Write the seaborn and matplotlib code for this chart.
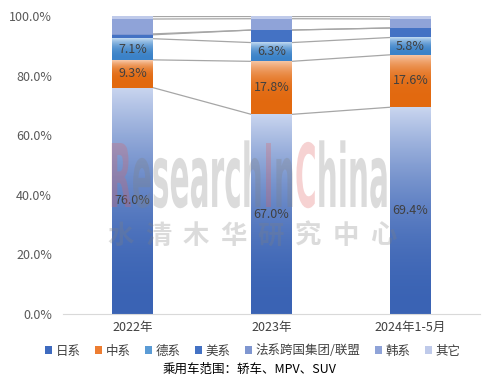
import numpy as np
import matplotlib
matplotlib.use('Agg')
import matplotlib.pyplot as plt
import seaborn as sns
from matplotlib.patches import Patch, PathPatch
from matplotlib.textpath import TextPath, TextToPath
from matplotlib.font_manager import FontProperties
from matplotlib.transforms import Affine2D
from matplotlib.colors import to_rgb

# data (share of passenger car sales, %)
years = ['2022年', '2023年', '2024年1-5月']
series = ['日系', '中系', '德系', '美系', '法系跨国集团/联盟', '韩系', '其它']
japan = [76.0, 67.0, 69.4]
china = [9.3, 17.8, 17.6]
germany = [7.1, 6.3, 5.8]
usa = [1.3, 4.2, 3.2]
france = [0.3, 0.0, 0.0]
korea = [5.0, 3.8, 3.0]
others = [1.0, 0.9, 1.0]
yticks = [0, 20, 40, 60, 80, 100]

values = [japan, china, germany, usa, france, korea, others]
# (legend colour, gradient top, gradient bottom, power) - None = solid
styles = [
    ('#3f6bbf', '#c9d5ef', '#3a63b4', 2.0),
    ('#ed7d31', '#f8cbad', '#e2690f', 3.5),
    ('#5b9bd5', '#c4dcf2', '#3b82c8', 2.5),
    ('#4472c4', None, None, None),
    ('#7f96d0', None, None, None),
    ('#8fa3d8', None, None, None),
    ('#bfcaea', None, None, None),
]
labelled = [0, 1, 2]

sns.set_style('white')
plt.rcParams['font.family'] = ['Noto Sans CJK SC', 'DejaVu Sans']

fig = plt.figure(figsize=(5, 3.82), dpi=100)
ax = fig.add_axes([0.126, 0.178, 0.834, 0.780])


def vgrad(rect, top, bottom, power):
    x0, y0 = rect.get_x(), rect.get_y()
    w, h = rect.get_width(), rect.get_height()
    if h <= 0:
        return
    t = np.linspace(0, 1, 120)[:, None]
    f = t ** power
    c = (1 - f) * np.array(to_rgb(bottom)) + f * np.array(to_rgb(top))
    ax.imshow(c[:, None, :], extent=[x0, x0 + w, y0, y0 + h], origin='lower',
              aspect='auto', zorder=2.5, interpolation='bilinear')


bottoms = np.zeros(3)
tops = []
for i, (name, vals) in enumerate(zip(series, values)):
    col, gtop, gbot, pw = styles[i]
    sns.barplot(x=years, y=vals, bottom=bottoms, color=col, saturation=1,
                width=0.29, errorbar=None, ax=ax, zorder=2, linewidth=0)
    cont = ax.containers[-1]
    if gtop is not None:
        for r in cont:
            vgrad(r, gtop, gbot, pw)
    if i in labelled:
        for j, v in enumerate(vals):
            ax.text(j, bottoms[j] + v / 2, f'{v:.1f}%', ha='center', va='center',
                    fontsize=9, color='#404040', zorder=4)
    bottoms = bottoms + np.array(vals)
    tops.append(bottoms.copy())

# series lines between bars
hw = 0.145
for t in tops:
    for j in range(len(years) - 1):
        ax.plot([j + hw, j + 1 - hw], [t[j], t[j + 1]], color='#a6a6a6', lw=0.9, zorder=1.5)

ax.set_xlim(-0.5, 2.5)
ax.set_ylim(0, 100)
ax.set_yticks(yticks)
ax.set_yticklabels([f'{v:.1f}%' for v in yticks])
ax.tick_params(axis='y', length=0, pad=8, labelsize=9, labelcolor='#595959')
ax.tick_params(axis='x', length=0, pad=5, labelsize=9, labelcolor='#404040')
ax.set_xlabel('')
ax.set_ylabel('')
for s in ['top', 'right', 'left']:
    ax.spines[s].set_visible(False)
ax.spines['bottom'].set_color('#d9d9d9')

# watermark
prop = FontProperties(family='DejaVu Sans', weight='bold', size=100)
t2p = TextToPath()
parts = [('R', '#e06060'), ('esearch', '#808080'), ('I', '#e06060'),
         ('n', '#808080'), ('C', '#e06060'), ('hina', '#808080')]
full = ''.join(p for p, _ in parts)
W = t2p.get_text_width_height_descent(full, prop, ismath=False)[0]
sx, sy = 280 / W, 64 / 72.9
prefix = ''
for txt, c in parts:
    off = t2p.get_text_width_height_descent(prefix, prop, ismath=False)[0] if prefix else 0
    path = TextPath((0, 0), txt, size=100, prop=prop)
    tr = Affine2D().translate(off, 0).scale(sx, sy).translate(109, 175)
    fig.add_artist(PathPatch(path, transform=tr, facecolor=c, edgecolor='none',
                             alpha=0.28, zorder=3))
    prefix += txt

for k, ch in enumerate('水清木华研究中心'):
    fig.text((121 + k * 37.5) / 500, 1 - 236 / 382, ch, ha='center', va='center',
             fontsize=19, fontweight='bold', color='#808080', alpha=0.28, zorder=3)

handles = [Patch(facecolor=s[0], edgecolor='none') for s in styles]
fig.legend(handles, series, loc='center', bbox_to_anchor=(0.505, 1 - 351 / 382), ncol=7,
           frameon=False, handlelength=0.55, handleheight=0.55, handletextpad=0.3,
           columnspacing=1.15, fontsize=9, labelcolor='#404040')
fig.text(0.5, 1 - 369 / 382, '乘用车范围：轿车、MPV、SUV', ha='center', va='center',
         fontsize=9, color='#000000')

fig.savefig('out.png', dpi=100)
